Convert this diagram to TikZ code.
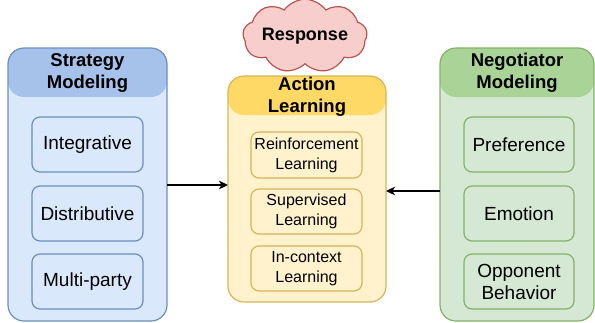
\documentclass[tikz,border=0pt]{standalone}
\usepackage{fontspec}
\setmainfont{Liberation Sans}
\usetikzlibrary{arrows.meta,shapes.symbols}
\tikzset{>={Stealth[length=9pt,width=8.5pt,inset=2.5pt]}}
\definecolor{blueBody}{HTML}{DAE8FC}
\definecolor{blueHead}{HTML}{A6C2EA}
\definecolor{blueDraw}{HTML}{6C8EBF}
\definecolor{yellowBody}{HTML}{FFF2CC}
\definecolor{yellowHead}{HTML}{FFD966}
\definecolor{yellowDraw}{HTML}{D6B656}
\definecolor{greenBody}{HTML}{D5E8D4}
\definecolor{greenHead}{HTML}{AAD497}
\definecolor{greenDraw}{HTML}{82B366}
\definecolor{redBody}{HTML}{F8CECC}
\definecolor{redDraw}{HTML}{B85450}
\tikzset{lane/.style n args={4}{rectangle,draw=#1,fill=#2,line width=1.2pt,rounded corners=16pt,outer sep=0pt,
	path picture={\fill[#3] (path picture bounding box.north west) rectangle ([yshift=-#4]path picture bounding box.north east);}}}
\tikzset{item/.style 2 args={rectangle,draw=#1,fill=#2,line width=1.2pt,rounded corners=8pt,align=center,inner sep=0pt}}
\tikzstyle{head}=[align=center,font=\fontsize{18.5}{22.5}\selectfont\bfseries]
\tikzstyle{big}=[font=\fontsize{19}{22}\selectfont]
\tikzstyle{small}=[font=\fontsize{16}{20}\selectfont]
\tikzstyle{link}=[->,line width=1.7pt]

\begin{document}
\begin{tikzpicture}[x=1pt,y=-1pt]
	\useasboundingbox (0,0) rectangle (595,322);
	\node[lane={blueDraw}{blueBody}{blueHead}{49pt}, minimum width=159, minimum height=273] (strategy) at (87.5,184.5) {};
	\node[lane={yellowDraw}{yellowBody}{yellowHead}{39pt}, minimum width=158, minimum height=226] (action) at (307,189) {};
	\node[lane={greenDraw}{greenBody}{greenHead}{49pt}, minimum width=154, minimum height=273] (negotiator) at (517,184.5) {};
	
	\node[head] (strategyHead) at (87.5,73) {Strategy\\Modeling};
	\node[head] (actionHead) at (307,97) {Action\\Learning};
	\node[head] (negotiatorHead) at (517,73) {Negotiator\\Modeling};
	
	\node[item={blueDraw}{blueBody}, big, minimum width=111, minimum height=55] (integrative) at (87.5,144.5) {Integrative};
	\node[item={blueDraw}{blueBody}, big, minimum width=111, minimum height=55] (distributive) at (87.5,213.5) {Distributive};
	\node[item={blueDraw}{blueBody}, big, minimum width=111, minimum height=55] (multiparty) at (87.5,281.5) {Multi-party};
	
	\node[item={yellowDraw}{yellowBody}, small, minimum width=111, minimum height=46] (reinforcement) at (306.5,155) {Reinforcement\\Learning};
	\node[item={yellowDraw}{yellowBody}, small, minimum width=111, minimum height=45] (supervised) at (306.5,211.5) {Supervised\\Learning};
	\node[item={yellowDraw}{yellowBody}, small, minimum width=111, minimum height=45] (incontext) at (306.5,268.5) {In-context\\Learning};
	
	\node[item={greenDraw}{greenBody}, big, minimum width=110, minimum height=55] (preference) at (519,144.5) {Preference};
	\node[item={greenDraw}{greenBody}, big, minimum width=110, minimum height=55] (emotion) at (519,213.5) {Emotion};
	\node[item={greenDraw}{greenBody}, big, minimum width=110, minimum height=55] (opponent) at (519,281.5) {Opponent\\Behavior};
	
	\node[cloud, cloud puffs=9, cloud puff arc=110, aspect=2.2, draw=redDraw, fill=redBody, line width=1.2pt, inner sep=0pt, minimum width=122, minimum height=58, font=\fontsize{18}{21}\selectfont\bfseries] (response) at (305,36) {Response};
	
	\draw[link] ([yshift=-0.5pt]strategy.east) -- ([yshift=-0.5pt]strategy.east -| action.west);
	\draw[link] ([yshift=-2pt]negotiator.west |- action.east) -- ([yshift=-2pt]action.east);
\end{tikzpicture}
\end{document}
